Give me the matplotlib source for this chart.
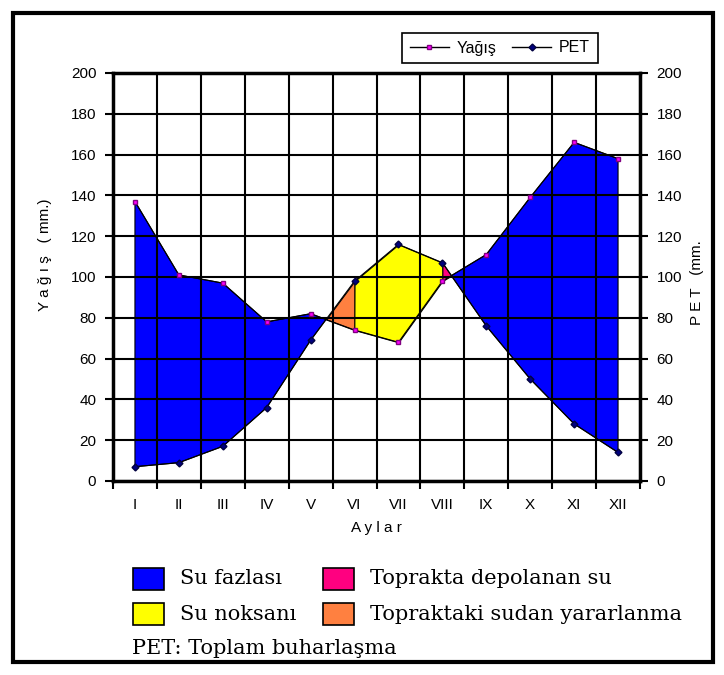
import numpy as np
import matplotlib
matplotlib.use("Agg")
import matplotlib.pyplot as plt
from matplotlib.patches import Rectangle
from matplotlib.lines import Line2D

# veriler
aylar = ["I", "II", "III", "IV", "V", "VI", "VII", "VIII", "IX", "X", "XI", "XII"]
yagis = [137, 101, 97, 78, 82, 74, 68, 98, 111, 139, 166, 158]
pet = [7, 9, 17, 36, 69, 98, 116, 107, 76, 50, 28, 14]

renk_fazla = "#0000FF"
renk_noksan = "#FFFF00"
renk_depo = "#FF0080"
renk_yarar = "#FF8040"

W, H = 724, 675
fig = plt.figure(figsize=(W / 100, H / 100), dpi=100)
ax = fig.add_axes([113 / W, 1 - 481 / H, (640 - 113) / W, (481 - 73) / H])

x = np.arange(len(aylar))
xs = np.linspace(0, 11, 2201)
p = np.interp(xs, x, yagis)
e = np.interp(xs, x, pet)

kw = dict(interpolate=True, edgecolor="black", linewidth=0.8, zorder=1)
ax.fill_between(xs, p, e, where=p >= e, facecolor=renk_fazla, **kw)
ax.fill_between(xs, p, e, where=(e > p) & (xs <= 5), facecolor=renk_yarar, **kw)
ax.fill_between(xs, p, e, where=(e > p) & (xs >= 5) & (xs <= 7), facecolor=renk_noksan, **kw)
ax.fill_between(xs, p, e, where=(e > p) & (xs >= 7), facecolor=renk_depo, **kw)

ax.plot(x, yagis, color="black", lw=0.8, marker="s", ms=3.5,
        mfc="#FF00FF", mec="#800080", zorder=3)
ax.plot(x, pet, color="black", lw=0.8, marker="D", ms=3.5,
        mfc="#000080", mec="#000040", zorder=3)

ax.set_xlim(-0.5, 11.5)
ax.set_ylim(0, 200)
ax.set_xticks(np.arange(-0.5, 12, 1))
ax.set_xticklabels([])
ax.set_xticks(x, minor=True)
ax.set_xticklabels(aylar, minor=True, fontsize=11, family="Liberation Sans")
ax.tick_params(axis="x", which="minor", length=0, pad=12)
ax.tick_params(axis="x", which="major", direction="out", length=6, width=1.5)
ax.set_yticks(np.arange(0, 201, 20))
ax.tick_params(axis="y", direction="out", length=6, width=1.5, labelsize=11,
               right=True, labelright=True, pad=6)
for lbl in ax.get_yticklabels():
    lbl.set_family("Liberation Sans")

ax.set_axisbelow(False)
ax.grid(True, which="major", color="black", lw=1.5)
for s in ax.spines.values():
    s.set_linewidth(2.5)

fig.text(45 / W, 1 - 255 / H, "Y a ğ ı ş   ( mm.)", rotation=90, ha="center",
         va="center", fontsize=11, family="Liberation Sans")
fig.text(697 / W, 1 - 283 / H, "P E T   (mm.", rotation=90, ha="center",
         va="center", fontsize=11, family="Liberation Sans")
fig.text(376 / W, 1 - 528 / H, "A y l a r", ha="center", va="center",
         fontsize=11, family="Liberation Sans")

# ust lejant
h1 = Line2D([], [], color="black", lw=1, marker="s", ms=3.5, mfc="#FF00FF", mec="#800080")
h2 = Line2D([], [], color="black", lw=1, marker="D", ms=3.5, mfc="#000080", mec="#000040")
leg = fig.legend([h1, h2], ["Yağış", "PET"], loc="center",
                 bbox_to_anchor=(500 / W, 1 - 48 / H), ncol=2, fancybox=False,
                 edgecolor="black", framealpha=1, handlelength=2.4, handletextpad=0.5,
                 columnspacing=1.0, borderpad=0.5, borderaxespad=0,
                 prop={"family": "Liberation Sans", "size": 11.5})
leg.get_frame().set_linewidth(1.2)

# alt lejant
satirlar = [
    (133, 568, renk_fazla, "Su fazlası"),
    (323, 568, renk_depo, "Toprakta depolanan su"),
    (133, 603, renk_noksan, "Su noksanı"),
    (323, 603, renk_yarar, "Topraktaki sudan yararlanma"),
]
for px, py, c, t in satirlar:
    fig.add_artist(Rectangle((px / W, 1 - (py + 22) / H), 31 / W, 22 / H,
                             facecolor=c, edgecolor="black", lw=1.2,
                             transform=fig.transFigure))
    fig.text((px + 47) / W, 1 - (py + 11) / H, t, ha="left", va="center",
             fontsize=15, family="DejaVu Serif")
fig.text(132 / W, 1 - 648 / H, "PET: Toplam buharlaşma", ha="left", va="center",
         fontsize=15, family="DejaVu Serif")

# dis cerceve
fig.add_artist(Rectangle((13 / W, 1 - 662 / H), 700 / W, 649 / H, fill=False,
                         edgecolor="black", lw=3, transform=fig.transFigure))

fig.savefig("out.png", dpi=100)
